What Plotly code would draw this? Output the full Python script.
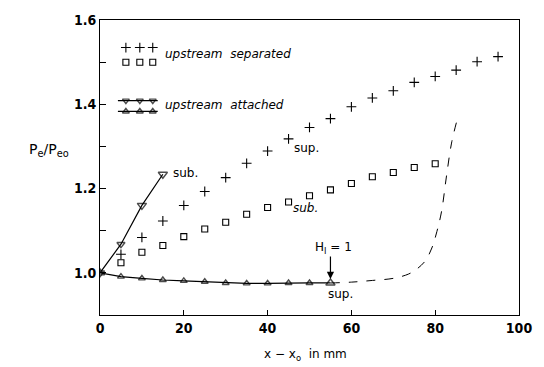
import plotly.graph_objects as go

# ---- data ----
sep_x = [5, 10, 15, 20, 25, 30, 35, 40, 45, 50, 55, 60, 65, 70, 75, 80, 85, 90, 95]
sep_plus = [1.044, 1.084, 1.123, 1.160, 1.193, 1.226, 1.260, 1.289, 1.318, 1.345,
            1.366, 1.394, 1.415, 1.432, 1.452, 1.466, 1.481, 1.501, 1.513]
sq_x = [5, 10, 15, 20, 25, 30, 35, 40, 45, 50, 55, 60, 65, 70, 75, 80]
sep_square = [1.024, 1.049, 1.065, 1.086, 1.104, 1.120, 1.139, 1.155, 1.168, 1.183,
              1.197, 1.212, 1.228, 1.238, 1.250, 1.259]
att_up_x = [0, 5, 10, 15]
att_up = [1.0, 1.068, 1.160, 1.234]
att_low_x = [0, 5, 10, 15, 20, 25, 30, 35, 40, 45, 50, 55]
att_low = [1.0, 0.991, 0.987, 0.983, 0.981, 0.979, 0.976, 0.975, 0.975, 0.976, 0.976, 0.976]
dash_x = [55, 60, 65, 70, 73.6, 75.6, 77.6, 79.2, 80.4, 81.5, 82.7, 83.9, 85.2]
dash_y = [0.976, 0.978, 0.982, 0.987, 0.997, 1.009, 1.028, 1.059, 1.098, 1.145, 1.23, 1.308, 1.362]
x_ticks = [0, 20, 40, 60, 80, 100]
y_major = [1.0, 1.2, 1.4, 1.6]
y_labels = ["1.0", "1.2", "1.4", "1.6"]
y_minor = [0.9, 1.1, 1.3, 1.5]

W, H = 544, 367
L, R, T, B = 100, 23, 15, 52
PW, PH = W - L - R, H - T - B
K = "black"


def px(x):
    return (x - L) / PW


def py(y):
    return (H - B - y) / PH


fig = go.Figure()

fig.add_trace(go.Scatter(x=sep_x, y=sep_plus, mode="markers",
                         marker=dict(symbol="cross-thin", size=7, color=K, line=dict(width=1.1, color=K)),
                         showlegend=False))
fig.add_trace(go.Scatter(x=sq_x, y=sep_square, mode="markers",
                         marker=dict(symbol="square-open", size=6, color=K, line=dict(width=1.1, color=K)),
                         showlegend=False))
fig.add_trace(go.Scatter(x=dash_x, y=dash_y, mode="lines",
                         line=dict(color=K, width=1, dash="dash", shape="spline"),
                         showlegend=False))
fig.add_trace(go.Scatter(x=att_low_x, y=att_low, mode="lines+markers",
                         line=dict(color=K, width=1.2),
                         marker=dict(symbol="triangle-up-open", size=[8] + [6] * 10 + [8], color=K,
                                     line=dict(width=1.4, color=K)),
                         showlegend=False))
fig.add_trace(go.Scatter(x=att_up_x, y=att_up, mode="lines+markers",
                         line=dict(color=K, width=1.2),
                         marker=dict(symbol="triangle-down-open", size=[8, 7, 8, 8], color=K,
                                     line=dict(width=1.4, color=K)),
                         showlegend=False))

# ---- custom legend keys (paper coords via overlay axes) ----
kx = [px(126), px(140), px(153)]
fig.add_trace(go.Scatter(x=kx, y=[py(43)] * 3, xaxis="x2", yaxis="y2", mode="markers",
                         marker=dict(symbol="cross-thin", size=7, color=K, line=dict(width=1.1, color=K)),
                         showlegend=False, hoverinfo="skip"))
fig.add_trace(go.Scatter(x=kx, y=[py(58)] * 3, xaxis="x2", yaxis="y2", mode="markers",
                         marker=dict(symbol="square-open", size=6, color=K, line=dict(width=1.1, color=K)),
                         showlegend=False, hoverinfo="skip"))
fig.add_trace(go.Scatter(x=[px(118)] + kx + [px(158)], y=[py(97)] * 5, xaxis="x2", yaxis="y2",
                         mode="lines+markers", line=dict(color=K, width=1.2),
                         marker=dict(symbol="triangle-down-open", size=[0, 6, 6, 6, 0], color=K,
                                     line=dict(width=1.4, color=K)),
                         showlegend=False, hoverinfo="skip"))
fig.add_trace(go.Scatter(x=[px(118)] + kx + [px(158)], y=[py(108)] * 5, xaxis="x2", yaxis="y2",
                         mode="lines+markers", line=dict(color=K, width=1.2),
                         marker=dict(symbol="triangle-up-open", size=[0, 6, 6, 6, 0], color=K,
                                     line=dict(width=1.4, color=K)),
                         showlegend=False, hoverinfo="skip"))

tick_font = dict(family="DejaVu Sans Condensed, Liberation Sans Narrow, sans-serif", size=14,
                 color=K, weight="bold")

fig.update_layout(
    width=W, height=H,
    margin=dict(l=L, r=R, t=T, b=B),
    paper_bgcolor="white", plot_bgcolor="white",
    font=dict(family="DejaVu Sans, sans-serif", color=K, size=12),
    xaxis=dict(range=[0, 100], tickvals=x_ticks, ticktext=[str(v) for v in x_ticks],
               ticks="inside", ticklen=5, tickwidth=1, tickcolor=K,
               showline=True, linecolor=K, linewidth=1, mirror=True,
               showgrid=False, zeroline=False, tickfont=tick_font),
    yaxis=dict(range=[0.9, 1.6], tickvals=y_major, ticktext=y_labels,
               ticks="inside", ticklen=6, tickwidth=1, tickcolor=K,
               minor=dict(tickvals=y_minor, ticks="inside", ticklen=6, tickwidth=1, tickcolor=K,
                          showgrid=False),
               showline=True, linecolor=K, linewidth=1, mirror=True,
               showgrid=False, zeroline=False, tickfont=tick_font),
    xaxis2=dict(range=[0, 1], overlaying="x", visible=False),
    yaxis2=dict(range=[0, 1], overlaying="y", visible=False),
)

ann = [
    dict(text="<i>upstream  separated</i>", x=px(163), y=py(50), xanchor="left", yanchor="middle",
         font=dict(size=12, family="DejaVu Sans, sans-serif")),
    dict(text="<i>upstream  attached</i>", x=px(163), y=py(101), xanchor="left", yanchor="middle",
         font=dict(size=12, family="DejaVu Sans, sans-serif")),
    dict(text="P<sub>e</sub>/P<sub>eo</sub>", x=px(27), y=py(147), xanchor="left", yanchor="middle",
         font=dict(size=14, family="DejaVu Sans, sans-serif")),
    dict(text="x − x<sub>o</sub>  in mm", x=px(306), y=py(356), xanchor="center", yanchor="middle",
         font=dict(size=12, family="DejaVu Sans, sans-serif")),
    dict(text="sub.", x=px(171), y=py(171), xanchor="left", yanchor="middle",
         font=dict(size=12, family="DejaVu Sans, sans-serif")),
    dict(text="sup.", x=px(293), y=py(145), xanchor="left", yanchor="middle",
         font=dict(size=12, family="DejaVu Sans, sans-serif")),
    dict(text="<i>sub.</i>", x=px(292), y=py(206), xanchor="left", yanchor="middle",
         font=dict(size=12, family="DejaVu Sans, sans-serif")),
    dict(text="H<sub>I</sub> = 1", x=px(314), y=py(247), xanchor="left", yanchor="middle",
         font=dict(size=12, family="DejaVu Sans, sans-serif")),
    dict(text="sup.", x=px(327), y=py(294), xanchor="left", yanchor="middle",
         font=dict(size=12, family="DejaVu Sans, sans-serif")),
]
for a in ann:
    a.update(xref="paper", yref="paper", showarrow=False)
    fig.add_annotation(**a)

fig.add_annotation(x=att_low_x[-1], y=att_low[-1], xref="x", yref="y", text="", showarrow=True,
                   ax=0, ay=-28, arrowhead=2, arrowsize=1.2, arrowwidth=1.2, arrowcolor=K,
                   standoff=4)

fig.write_html("out.html")
